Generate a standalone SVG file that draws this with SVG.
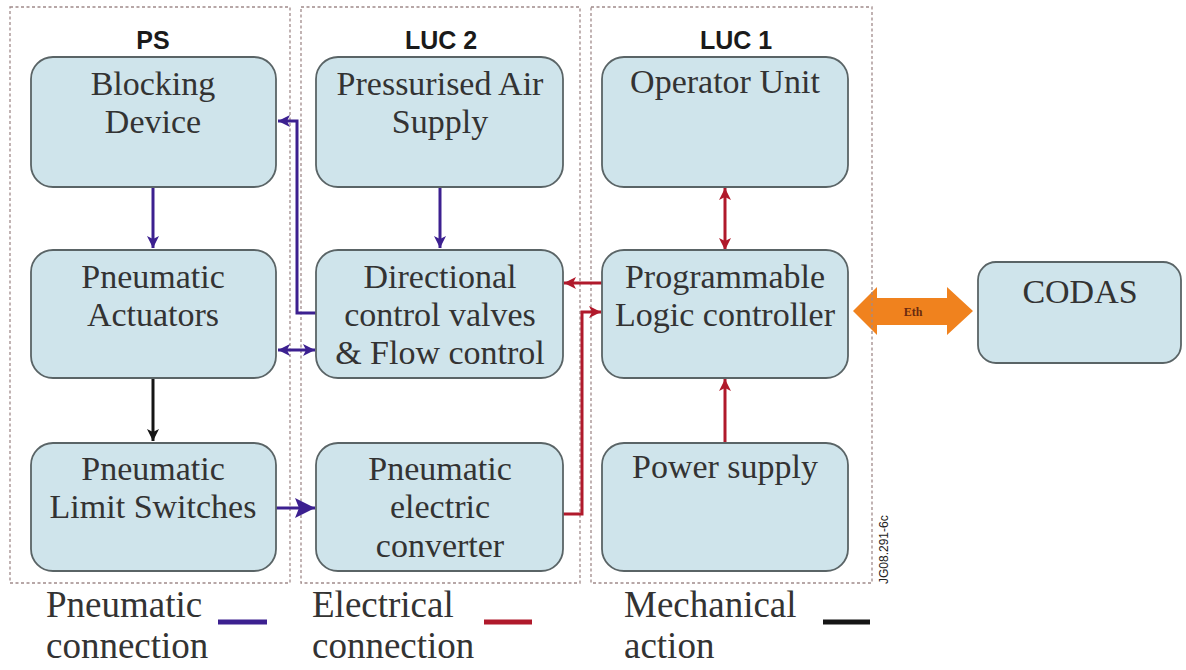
<svg xmlns="http://www.w3.org/2000/svg" width="1186" height="670" viewBox="0 0 1186 670">
<defs>
<style>
.grp{fill:none;stroke:#a08a8a;stroke-width:1.3;stroke-dasharray:3 2.5}
.title{font-family:"Liberation Sans",Arial,sans-serif;font-weight:bold;font-size:25px;fill:#1a1a1a;text-anchor:middle}
.box{fill:#cfe4eb;stroke:#5a6466;stroke-width:1.8}
.lbl{font-family:"Liberation Serif","Times New Roman",serif;font-size:34px;fill:#333;text-anchor:middle}
.leg{font-family:"Liberation Serif","Times New Roman",serif;font-size:37px;fill:#333}
.pn{fill:none;stroke:#3c2090;stroke-width:3}
.el{fill:none;stroke:#b0192b;stroke-width:3}
.me{fill:none;stroke:#151515;stroke-width:3}
</style>
<marker id="aB" markerUnits="userSpaceOnUse" markerWidth="14" markerHeight="14" refX="12" refY="7" orient="auto-start-reverse"><path d="M0,1 L12,7 L0,13 L3,7 Z" fill="#3c2090"/></marker>
<marker id="aR" markerUnits="userSpaceOnUse" markerWidth="14" markerHeight="14" refX="12" refY="7" orient="auto-start-reverse"><path d="M0,1 L12,7 L0,13 L3,7 Z" fill="#b0192b"/></marker>
<marker id="aK" markerUnits="userSpaceOnUse" markerWidth="14" markerHeight="14" refX="12" refY="7" orient="auto-start-reverse"><path d="M0,1 L12,7 L0,13 L3,7 Z" fill="#151515"/></marker>
<marker id="aBig" markerUnits="userSpaceOnUse" markerWidth="22" markerHeight="22" refX="20" refY="11" orient="auto"><path d="M0,1 L20,11 L0,21 L4,11 Z" fill="#3c2090"/></marker>
</defs>
<rect width="1186" height="670" fill="#fff"/>

<g id="groups">
<rect class="grp" x="10" y="7" width="280" height="576"/>
<rect class="grp" x="301" y="7" width="279" height="576"/>
<rect class="grp" x="591" y="7" width="281" height="576"/>
<text class="title" x="153" y="49">PS</text>
<text class="title" x="441" y="49">LUC 2</text>
<text class="title" x="736" y="49">LUC 1</text>
</g>

<g id="connectors">
<path class="pn" d="M153,187 V248" marker-end="url(#aB)"/>
<path class="pn" d="M440,187 V248" marker-end="url(#aB)"/>
<path class="pn" d="M316,313 H297 V121 H278" marker-end="url(#aB)"/>
<path class="pn" d="M278,350 H315" marker-start="url(#aB)" marker-end="url(#aB)"/>
<path class="me" d="M153,378 V441" marker-end="url(#aK)"/>
<path class="pn" d="M276,508 H315" stroke-width="6" marker-end="url(#aBig)"/>
<path class="el" d="M602,283 H564" marker-end="url(#aR)"/>
<path class="el" d="M563,514 H582 V312 H601" marker-end="url(#aR)"/>
<path class="el" d="M725,188 V250" marker-start="url(#aR)" marker-end="url(#aR)"/>
<path class="el" d="M725,443 V379" marker-end="url(#aR)"/>
<g id="eth">
<path d="M853,311 L877,287 L877,298 L947,298 L947,287 L973,311 L947,335 L947,325 L877,325 L877,335 Z" fill="#f0821e"/>
<line x1="872" y1="292" x2="872" y2="330" stroke="#a08a8a" stroke-width="1.3" stroke-dasharray="3 2.5"/>
<text x="913" y="316" font-family="Liberation Serif, serif" font-weight="bold" font-size="12" fill="#6a2a10" text-anchor="middle">Eth</text>
</g>
</g>

<g id="n-blocking"><rect class="box" x="31" y="57" width="245" height="130" rx="22"/><text class="lbl" x="153" y="95">Blocking</text><text class="lbl" x="153" y="133">Device</text></g>
<g id="n-air"><rect class="box" x="316" y="57" width="247" height="130" rx="22"/><text class="lbl" x="440" y="95">Pressurised Air</text><text class="lbl" x="440" y="133">Supply</text></g>
<g id="n-operator"><rect class="box" x="602" y="57" width="246" height="130" rx="22"/><text class="lbl" x="725" y="93">Operator Unit</text></g>
<g id="n-actuators"><rect class="box" x="31" y="250" width="245" height="128" rx="22"/><text class="lbl" x="153" y="288">Pneumatic</text><text class="lbl" x="153" y="326">Actuators</text></g>
<g id="n-valves"><rect class="box" x="316" y="250" width="247" height="128" rx="22"/><text class="lbl" x="440" y="288">Directional</text><text class="lbl" x="440" y="326">control valves</text><text class="lbl" x="440" y="364">&amp; Flow control</text></g>
<g id="n-plc"><rect class="box" x="602" y="250" width="246" height="128" rx="22"/><text class="lbl" x="725" y="288">Programmable</text><text class="lbl" x="725" y="326">Logic controller</text></g>
<g id="n-limit"><rect class="box" x="31" y="443" width="245" height="128" rx="22"/><text class="lbl" x="153" y="480">Pneumatic</text><text class="lbl" x="153" y="518">Limit Switches</text></g>
<g id="n-converter"><rect class="box" x="316" y="443" width="247" height="128" rx="22"/><text class="lbl" x="440" y="480">Pneumatic</text><text class="lbl" x="440" y="518">electric</text><text class="lbl" x="440" y="557">converter</text></g>
<g id="n-power"><rect class="box" x="602" y="443" width="246" height="128" rx="22"/><text class="lbl" x="725" y="478">Power supply</text></g>
<g id="n-codas"><rect class="box" x="978" y="262" width="203" height="101" rx="18"/><text class="lbl" x="1080" y="303">CODAS</text></g>

<g id="legend">
<text class="leg" x="46" y="617">Pneumatic</text><text class="leg" x="46" y="658">connection</text>
<line x1="218" y1="622" x2="267" y2="622" stroke="#3c2090" stroke-width="5"/>
<text class="leg" x="312" y="617">Electrical</text><text class="leg" x="312" y="658">connection</text>
<line x1="484" y1="622" x2="532" y2="622" stroke="#b0192b" stroke-width="5"/>
<text class="leg" x="624" y="617">Mechanical</text><text class="leg" x="624" y="658">action</text>
<line x1="823" y1="622" x2="870" y2="622" stroke="#151515" stroke-width="5"/>
</g>

<text x="0" y="0" transform="translate(888,584) rotate(-90)" font-family="Liberation Sans, Arial, sans-serif" font-size="12" fill="#222">JG08.291-6c</text>
</svg>
